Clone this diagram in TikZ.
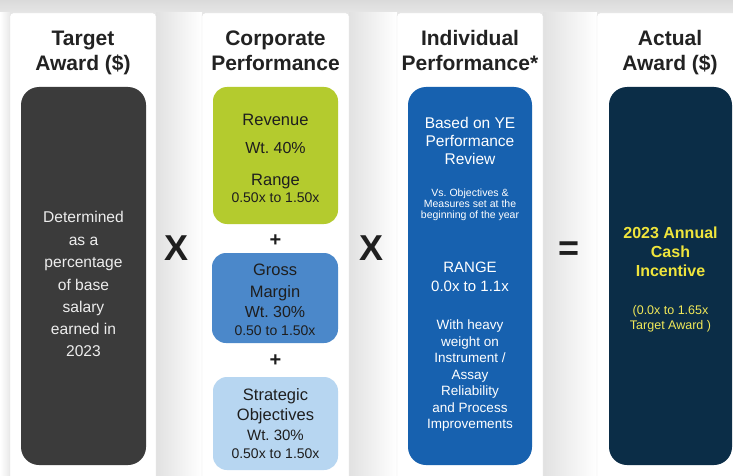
\documentclass[tikz,border=0pt]{standalone}
\usepackage{fontspec}
\setmainfont{Liberation Sans}
\definecolor{titlec}{HTML}{222222}
\definecolor{darkbox}{HTML}{3B3B3B}
\definecolor{lt}{HTML}{EDEDED}
\definecolor{grn}{HTML}{B4CB2E}
\definecolor{gm}{HTML}{4B88CA}
\definecolor{so}{HTML}{B7D6F1}
\definecolor{ind}{HTML}{1761AF}
\definecolor{navy}{HTML}{0B2D47}
\definecolor{yel}{HTML}{EFE43C}
\definecolor{shade}{HTML}{DADADA}
\definecolor{dk}{HTML}{1E1E1E}
\begin{document}
\frenchspacing
\begin{tikzpicture}[x=1pt,y=-1pt,
  card/.style={draw=black!12, fill=white, rounded corners=3pt},
  bigbox/.style={rounded corners=18pt},
  smallbox/.style={rounded corners=14pt},
  fs/.style={font=\fontsize{#1}{#1}\selectfont, inner sep=0pt, anchor=base, yshift={-0.36*#1}},
  fsb/.style={font=\fontsize{#1}{#1}\selectfont\bfseries, inner sep=0pt, anchor=base, yshift={-0.36*#1}},
  title/.style={fsb=21, text=titlec},
  op/.style={fsb=36, text=black!88}]
\useasboundingbox (0,0) rectangle (733,476);
% background
\fill[white] (0,0) rectangle (733,476);
\shade[top color=shade, bottom color=white] (0,0) rectangle (733,40);
\shade[left color=white, right color=shade!60] (0,13) rectangle (10,476);
\foreach \a/\b [count=\i] in {156/202, 349/397, 543/597}
  \shade[left color=shade!80, right color=white] (\a,13) rectangle (\b,476);
% cards
\draw[card] (10,13) rectangle (156,480);
\draw[card] (202,13) rectangle (349,480);
\draw[card] (397,13) rectangle (543,480);
\draw[card] (597,13) rectangle (740,480);
% titles
\node[title] (t1a) at (83,38) {Target};
\node[title] (t1b) at (83,63) {Award (\$)};
\node[title] (t2a) at (275.5,38) {Corporate};
\node[title] (t2b) at (275.5,63) {Performance};
\node[title] (t3a) at (470,38) {Individual};
\node[title] (t3b) at (470,63) {Performance*};
\node[title] (t4a) at (670,38) {Actual};
\node[title] (t4b) at (670,63) {Award (\$)};
% boxes
\fill[darkbox, bigbox] (21,87) rectangle (146,465);
\fill[grn, smallbox] (213,87) rectangle (338,224);
\fill[gm, smallbox] (212,253) rectangle (338,343);
\fill[so, smallbox] (213,377) rectangle (338,470);
\fill[ind, bigbox] (408,87) rectangle (532,465);
\fill[navy, bigbox] (609,87) rectangle (732,465);
% panel 1 text
\foreach \t/\y [count=\i] in {Determined/217, as a/239.5, percentage/262, of base/284.5, salary/307, earned in/329, 2023/351}
  \node[fs=15.6, text=lt] (d\i) at (83.5,\y) {\t};
% panel 2 text
\node[fs=16.5, text=dk] (r1) at (275.5,120) {Revenue};
\node[fs=16, text=dk] (r2) at (275.5,148) {Wt. 40\%};
\node[fs=16.5, text=dk] (r3) at (275.5,180) {Range};
\node[fs=14, text=dk] (r4) at (275.5,197) {0.50x to 1.50x};
\node[fsb=20, text=dk] (p1) at (275.5,239) {+};
\node[fs=16.5, text=dk] (g1) at (275,270) {Gross};
\node[fs=16.5, text=dk] (g2) at (275,292) {Margin};
\node[fs=16, text=dk] (g3) at (275,312) {Wt. 30\%};
\node[fs=14, text=dk] (g4) at (275,330) {0.50 to 1.50x};
\node[fsb=20, text=dk] (p2) at (275.5,359) {+};
\node[fs=16.5, text=dk] (s1) at (275.5,395) {Strategic};
\node[fs=16.5, text=dk] (s2) at (275.5,415) {Objectives};
\node[fs=15, text=dk] (s3) at (275.5,435) {Wt. 30\%};
\node[fs=14, text=dk] (s4) at (275.5,453) {0.50x to 1.50x};
% operators
\node[op] (x1) at (177,248) {X};
\node[op] (x2) at (372,248) {X};
\node[op] (eq) at (569,248) {=};
% panel 3 text
\node[fs=15.5, text=white] (i1) at (470,123) {Based on YE};
\node[fs=15.5, text=white] (i2) at (470,141) {Performance};
\node[fs=15.5, text=white] (i3) at (470,159) {Review};
\node[fs=10.5, text=white] (v1) at (470,193) {Vs. Objectives \&};
\node[fs=10.5, text=white] (v2) at (470,204) {Measures set at the};
\node[fs=10.5, text=white] (v3) at (470,215) {beginning of the year};
\node[fs=15, text=white] (rg1) at (470,267) {RANGE};
\node[fs=15, text=white] (rg2) at (470,286) {0.0x to 1.1x};
\foreach \t/\y [count=\i] in {With heavy/325, weight on/341.5, {Instrument /}/358, Assay/374.5, Reliability/391, and Process/407.5, Improvements/424}
  \node[fs=13.5, text=white] (w\i) at (470,\y) {\t};
% panel 4 text
\node[fsb=16, text=yel] (a1) at (670.5,233) {2023 Annual};
\node[fsb=16, text=yel] (a2) at (670.5,252) {Cash};
\node[fsb=16, text=yel] (a3) at (670.5,271) {Incentive};
\node[fs=12.5, text=yel!85!white] (a4) at (670.5,310) {(0.0x to 1.65x};
\node[fs=12.5, text=yel!85!white] (a5) at (670.5,325) {Target Award )};
\end{tikzpicture}
\end{document}
